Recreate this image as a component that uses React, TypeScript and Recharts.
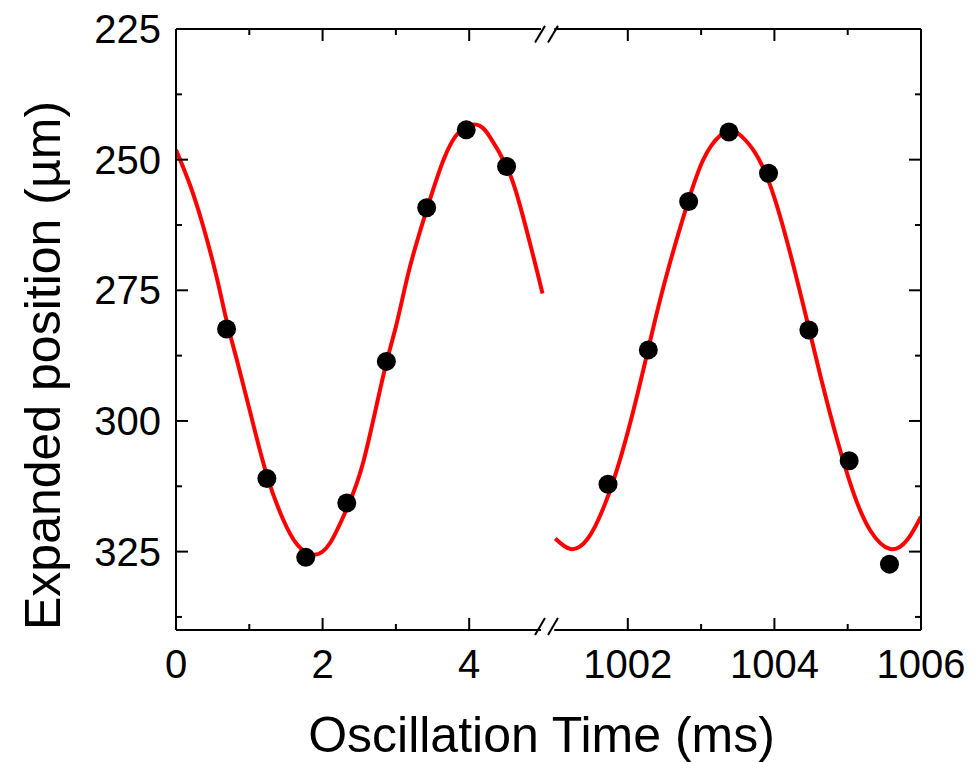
import React from 'react';
import { ComposedChart, Line, Scatter, XAxis, YAxis, ReferenceLine } from 'recharts';

// ---- data ----
// fitted curve, early times (ms) and expanded position (µm)
const fitEarlyTime = [0, 0.19, 0.37, 0.555, 0.69, 0.83, 1.01, 1.24, 1.46, 1.65, 1.875, 2.1, 2.33, 2.56, 2.83, 3.01, 3.19, 3.42, 3.65, 3.87, 4.1, 4.28, 4.51, 4.69, 4.92, 5.0];
const fitEarlyPos = [248.1, 254.8, 262.7, 272.5, 280.8, 288.3, 298.2, 310.4, 318.8, 323.6, 325.6, 323.4, 316.8, 307.6, 291.2, 281.4, 270.6, 259.6, 250.0, 244.6, 243.3, 245.6, 251.3, 258.6, 271.0, 275.6];
// fitted curve, late times
const fitLateTime = [1001.01, 1001.22, 1001.45, 1001.68, 1001.9, 1002.13, 1002.36, 1002.58, 1002.81, 1003.03, 1003.26, 1003.4, 1003.49, 1003.72, 1003.95, 1004.17, 1004.4, 1004.63, 1004.86, 1005.08, 1005.31, 1005.58, 1005.81, 1006.0];
const fitLatePos = [322.5, 324.5, 322.6, 316.2, 307.1, 295.0, 281.4, 269.5, 258.6, 250.0, 245.4, 244.4, 244.8, 248.3, 255.2, 265.5, 278.2, 291.5, 303.8, 313.8, 321.0, 324.5, 322.8, 318.3];
// measured points
const measEarlyTime = [0.69, 1.24, 1.77, 2.33, 2.87, 3.42, 3.96, 4.51];
const measEarlyPos = [282.4, 311.0, 326.1, 315.7, 288.6, 259.2, 244.3, 251.3];
const measLateTime = [1001.73, 1002.28, 1002.83, 1003.38, 1003.92, 1004.47, 1005.02, 1005.57];
const measLatePos = [312.1, 286.4, 258.0, 244.7, 252.6, 282.6, 307.6, 327.4];

// axis ticks
const xTicksEarly = [0, 1, 2, 3, 4];
const xTicksLate = [1002, 1003, 1004, 1005, 1006];
const xMajor = [0, 2, 4, 1002, 1004, 1006];
const yTicks = [225, 237.5, 250, 262.5, 275, 287.5, 300, 312.5, 325, 337.5];
const yMajor = [225, 250, 275, 300, 325];
const yDomain = [225, 340];

// ---- broken axis mapping ----
const EARLY_END = 5;
const LATE_START = 1001;
const GAP = 0.164;
const toPlot = (t: number) => (t <= EARLY_END + 0.5 ? t : t - LATE_START + EARLY_END + GAP);
const fromPlot = (p: number) => (p <= EARLY_END + GAP / 2 ? p : p - EARLY_END - GAP + LATE_START);
const X_MAX = toPlot(1006);

const zip = (ts: number[], vs: number[]) => ts.map((t, i) => ({ x: toPlot(t), y: vs[i] }));
const fitEarly = zip(fitEarlyTime, fitEarlyPos);
const fitLate = zip(fitLateTime, fitLatePos);
const measEarly = zip(measEarlyTime, measEarlyPos);
const measLate = zip(measLateTime, measLatePos);
const xTicks = [...xTicksEarly, ...xTicksLate].map(toPlot);

const FONT = "'Liberation Sans', Arial, Helvetica, sans-serif";
const TICK_FS = 40;
const TITLE_FS = 50;
const MAJ = 12;
const MIN = 6;

const isXMajor = (p: number) => xMajor.some((m) => Math.abs(toPlot(m) - p) < 1e-6);
const isYMajor = (v: number) => yMajor.includes(v);

const BottomTick = (props: any) => {
  const { x, y, payload } = props;
  const major = isXMajor(payload.value);
  const label = Math.round(fromPlot(payload.value));
  return (
    <g>
      <line x1={x} y1={y} x2={x} y2={y - (major ? MAJ : MIN)} stroke="#000" strokeWidth={2} />
      {major && (
        <text x={x} y={y + 48} textAnchor="middle" fontSize={TICK_FS} fontFamily={FONT} fill="#000">
          {label}
        </text>
      )}
    </g>
  );
};

const TopTick = (props: any) => {
  const { x, y, payload } = props;
  const major = isXMajor(payload.value);
  return <line x1={x} y1={y} x2={x} y2={y + (major ? MAJ : MIN)} stroke="#000" strokeWidth={2} />;
};

const LeftTick = (props: any) => {
  const { x, y, payload } = props;
  const major = isYMajor(payload.value);
  return (
    <g>
      <line x1={x} y1={y} x2={x + (major ? MAJ : MIN)} y2={y} stroke="#000" strokeWidth={2} />
      {major && (
        <text x={x - 15} y={y + 14} textAnchor="end" fontSize={TICK_FS} fontFamily={FONT} fill="#000">
          {payload.value}
        </text>
      )}
    </g>
  );
};

const RightTick = (props: any) => {
  const { x, y, payload } = props;
  const major = isYMajor(payload.value);
  return <line x1={x} y1={y} x2={x - (major ? MAJ : MIN)} y2={y} stroke="#000" strokeWidth={2} />;
};

const Dot = (props: any) => <circle cx={props.cx} cy={props.cy} r={9.5} fill="#000" />;

const XTitle = (props: any) => {
  const vb = props.viewBox || { x: 176, y: 630, width: 745, height: 132 };
  return (
    <text x={vb.x + vb.width / 2 - 7} y={vb.y + 122} textAnchor="middle" fontSize={TITLE_FS} fontFamily={FONT} fill="#000">
      Oscillation Time (ms)
    </text>
  );
};

const YTitle = (props: any) => {
  const vb = props.viewBox || { x: 0, y: 29, width: 176, height: 601 };
  const cx = 60;
  const cy = vb.y + vb.height / 2 + 36;
  return (
    <text x={cx} y={cy} transform={`rotate(-90 ${cx} ${cy})`} textAnchor="middle" fontSize={TITLE_FS} fontFamily={FONT} fill="#000">
      Expanded position (µm)
    </text>
  );
};

const frameStroke = { stroke: '#000', strokeWidth: 2 };

export default function App() {
  return (
    <div style={{ position: 'absolute', left: 0, top: 0, width: 979, height: 762, background: '#fff' }}>
      <ComposedChart width={979} height={762} margin={{ top: 0, right: 0, bottom: 0, left: 0 }}>
        <XAxis
          xAxisId="b"
          type="number"
          dataKey="x"
          domain={[0, X_MAX]}
          ticks={xTicks}
          allowDataOverflow
          orientation="bottom"
          height={132}
          tickSize={0}
          tickMargin={0}
          axisLine={false}
          tickLine={false}
          tick={<BottomTick />}
          interval={0}
          label={<XTitle />}
        />
        <XAxis
          xAxisId="t"
          type="number"
          dataKey="x"
          domain={[0, X_MAX]}
          ticks={xTicks}
          allowDataOverflow
          orientation="top"
          height={29}
          tickSize={0}
          tickMargin={0}
          axisLine={false}
          tickLine={false}
          tick={<TopTick />}
          interval={0}
        />
        <YAxis
          yAxisId="l"
          type="number"
          dataKey="y"
          domain={yDomain}
          ticks={yTicks}
          reversed
          allowDataOverflow
          width={176}
          tickSize={0}
          tickMargin={0}
          axisLine={frameStroke}
          tickLine={false}
          tick={<LeftTick />}
          interval={0}
          label={<YTitle />}
        />
        <YAxis
          yAxisId="r"
          orientation="right"
          type="number"
          dataKey="y"
          domain={yDomain}
          ticks={yTicks}
          reversed
          allowDataOverflow
          width={58}
          tickSize={0}
          tickMargin={0}
          axisLine={frameStroke}
          tickLine={false}
          tick={<RightTick />}
          interval={0}
        />

        {/* broken top / bottom frame */}
        <ReferenceLine xAxisId="b" yAxisId="l" ifOverflow="visible" {...frameStroke} segment={[{ x: 0, y: 340 }, { x: 4.98, y: 340 }]} />
        <ReferenceLine xAxisId="b" yAxisId="l" ifOverflow="visible" {...frameStroke} segment={[{ x: 5.16, y: 340 }, { x: X_MAX, y: 340 }]} />
        <ReferenceLine xAxisId="b" yAxisId="l" ifOverflow="visible" {...frameStroke} segment={[{ x: 0, y: 225 }, { x: 4.98, y: 225 }]} />
        <ReferenceLine xAxisId="b" yAxisId="l" ifOverflow="visible" {...frameStroke} segment={[{ x: 5.16, y: 225 }, { x: X_MAX, y: 225 }]} />
        {/* break marks */}
        <ReferenceLine xAxisId="b" yAxisId="l" ifOverflow="visible" {...frameStroke} segment={[{ x: 4.898, y: 340.96 }, { x: 5.034, y: 337.7 }]} />
        <ReferenceLine xAxisId="b" yAxisId="l" ifOverflow="visible" {...frameStroke} segment={[{ x: 5.075, y: 340.96 }, { x: 5.211, y: 337.7 }]} />
        <ReferenceLine xAxisId="b" yAxisId="l" ifOverflow="visible" {...frameStroke} segment={[{ x: 4.898, y: 227.6 }, { x: 5.034, y: 224.4 }]} />
        <ReferenceLine xAxisId="b" yAxisId="l" ifOverflow="visible" {...frameStroke} segment={[{ x: 5.075, y: 227.6 }, { x: 5.211, y: 224.4 }]} />

        <Line xAxisId="b" yAxisId="l" data={fitEarly} dataKey="y" type="natural" stroke="#ff0000" strokeWidth={4} dot={false} activeDot={false} isAnimationActive={false} />
        <Line xAxisId="b" yAxisId="l" data={fitLate} dataKey="y" type="natural" stroke="#ff0000" strokeWidth={4} dot={false} activeDot={false} isAnimationActive={false} />
        <Scatter xAxisId="b" yAxisId="l" data={measEarly} dataKey="y" fill="#000" shape={<Dot />} isAnimationActive={false} />
        <Scatter xAxisId="b" yAxisId="l" data={measLate} dataKey="y" fill="#000" shape={<Dot />} isAnimationActive={false} />
      </ComposedChart>
    </div>
  );
}
